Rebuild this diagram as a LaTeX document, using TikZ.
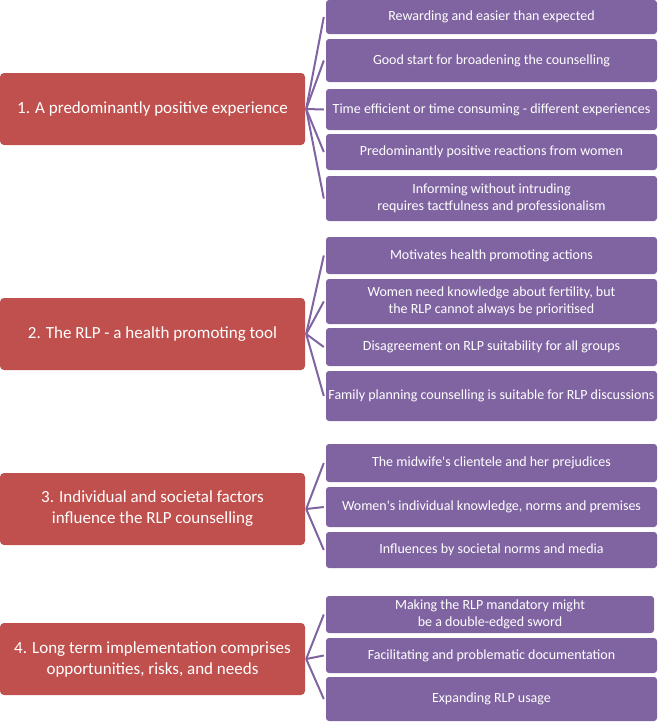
\documentclass[tikz,border=0pt]{standalone}
\usepackage{fontspec}
\setmainfont{Carlito}[Ligatures=TeXOff]
\definecolor{rbox}{HTML}{C0504D}
\definecolor{pbox}{HTML}{8064A2}
\begin{document}
\begin{tikzpicture}[x=1pt,y=-1pt,
  redbox/.style={fill=rbox, rounded corners=4pt, text=white, minimum width=305pt, inner sep=0pt, align=center, font=\fontsize{17}{21}\selectfont},
  purbox/.style={fill=pbox, rounded corners=3pt, text=white, minimum width=331pt, inner sep=0pt, align=center, font=\fontsize{14}{16.5}\selectfont},
  link/.style={draw=pbox, line width=2pt}]
\useasboundingbox (0,0) rectangle (660,723);
% group 1
\node[redbox, minimum height=72pt] (r1) at (152.5,109) {1. A predominantly positive experience};
\node[purbox, minimum height=34pt] (a1) at (491.5,17) {Rewarding and easier than expected};
\node[purbox, minimum height=43pt] (a2) at (491.5,60.5) {Good start for broadening the counselling};
\node[purbox, minimum height=41pt] (a3) at (491.5,109.5) {Time efficient or time consuming - different experiences};
\node[purbox, minimum height=36pt] (a4) at (491.5,152) {Predominantly positive reactions from women};
\node[purbox, minimum height=45pt] (a5) at (491.5,198.5) {Informing without intruding\\requires tactfulness and professionalism};
% group 2
\node[redbox, minimum height=72pt] (r2) at (152.5,334) {2. The RLP - a health promoting tool};
\node[purbox, minimum height=37pt] (b1) at (491.5,255.5) {Motivates health promoting actions};
\node[purbox, minimum height=45pt] (b2) at (491.5,301.5) {Women need knowledge about fertility, but\\the RLP cannot always be prioritised};
\node[purbox, minimum height=38pt] (b3) at (491.5,347) {Disagreement on RLP suitability for all groups};
\node[purbox, minimum height=50pt] (b4) at (491.5,396) {Family planning counselling is suitable for RLP discussions};
% group 3
\node[redbox, minimum height=72pt] (r3) at (152.5,509) {3. Individual and societal factors\\influence the RLP counselling};
\node[purbox, minimum height=38pt] (c1) at (491.5,463) {The midwife's clientele and her prejudices};
\node[purbox, minimum height=40pt] (c2) at (491.5,507) {Women's individual knowledge, norms and premises};
\node[purbox, minimum height=36pt] (c3) at (491.5,550) {Influences by societal norms and media};
% group 4
\node[redbox, minimum height=72pt] (r4) at (152.5,659) {4. Long term implementation comprises\\opportunities, risks, and needs};
\node[purbox, minimum height=37pt, minimum width=328pt] (d1) at (490,614.5) {Making the RLP mandatory might\\be a double-edged sword};
\node[purbox, minimum height=35pt] (d2) at (491.5,655.5) {Facilitating and problematic documentation};
\node[purbox, minimum height=44pt] (d3) at (491.5,699) {Expanding RLP usage};
% connectors
\foreach \p/\c in {r1/a1,r1/a2,r1/a3,r1/a4,r1/a5,r2/b1,r2/b2,r2/b3,r2/b4,r3/c1,r3/c2,r3/c3,r4/d1,r4/d2,r4/d3}
  \draw[link] ([xshift=1pt]\p.east) -- ([xshift=-2pt]\c.west);
\end{tikzpicture}
\end{document}
